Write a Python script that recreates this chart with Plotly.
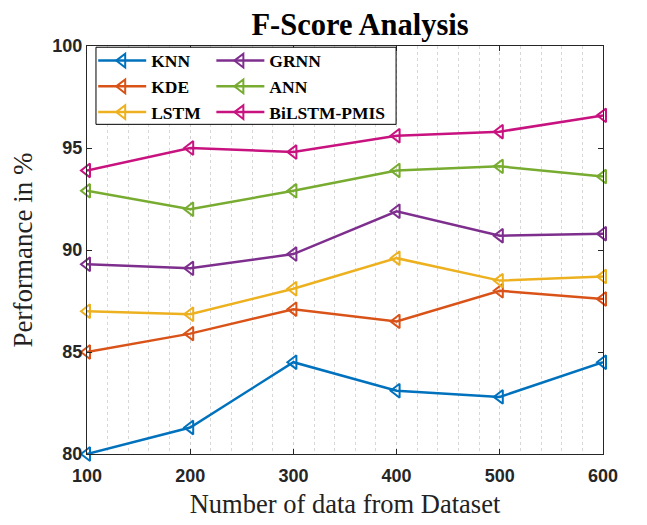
import plotly.graph_objects as go

x_vals = [100, 200, 300, 400, 500, 600]
knn = [80.0, 81.3, 84.5, 83.1, 82.8, 84.5]
kde = [85.0, 85.9, 87.1, 86.5, 88.0, 87.6]
lstm = [87.0, 86.85, 88.1, 89.6, 88.5, 88.7]
grnn = [89.3, 89.1, 89.8, 91.9, 90.7, 90.8]
ann = [92.9, 92.0, 92.9, 93.9, 94.1, 93.6]
bilstm = [93.9, 95.0, 94.8, 95.6, 95.8, 96.6]

series = [
    ("KNN", knn, "#0072BD", "legend"),
    ("KDE", kde, "#D95319", "legend"),
    ("LSTM", lstm, "#EDB120", "legend"),
    ("GRNN", grnn, "#7E2F8E", "legend2"),
    ("ANN", ann, "#77AC30", "legend2"),
    ("BiLSTM-PMIS", bilstm, "#C8127F", "legend2"),
]

y_ticks = [80, 85, 90, 95, 100]
x_ticks = [100, 200, 300, 400, 500, 600]

fig = go.Figure()
for name, vals, color, leg in series:
    fig.add_trace(go.Scatter(
        x=x_vals, y=vals, name=name, mode="lines+markers",
        line=dict(color=color, width=2.5),
        marker=dict(symbol="triangle-left-open", size=12, color=color,
                    line=dict(width=2, color=color)),
        cliponaxis=False, legend=leg,
    ))

serif = "Liberation Serif, Times New Roman, serif"
sans = "Liberation Sans, Arial, sans-serif"
axis_color = "#262626"

legfont = dict(family=serif, size=17.5, color="black", weight="bold")

fig.update_layout(
    width=639, height=517,
    margin=dict(l=79, r=44, t=38, b=68),
    paper_bgcolor="white", plot_bgcolor="white",
    title=dict(text="<b>F-Score Analysis</b>", x=0.551, xanchor="center",
               xref="container", yref="container",
               y=0.99, yanchor="top", pad=dict(t=0, b=0),
               font=dict(family=serif, size=30.5, color="black")),
    legend=dict(x=0.012, y=1.008, xanchor="left", yanchor="top",
                bgcolor="rgba(0,0,0,0)", borderwidth=0, font=legfont,
                tracegroupgap=0, itemwidth=48),
    legend2=dict(x=0.241, y=1.008, xanchor="left", yanchor="top",
                 bgcolor="rgba(0,0,0,0)", borderwidth=0, font=legfont,
                 tracegroupgap=0, itemwidth=48),
    shapes=[dict(type="rect", xref="paper", yref="paper",
                 x0=0.0174, x1=0.599, y0=0.808, y1=0.997,
                 line=dict(color="black", width=1), fillcolor="white",
                 layer="above")],
)

fig.update_xaxes(
    range=[100, 600], tickvals=x_ticks,
    title=dict(text="Number of data from Dataset",
               font=dict(family=serif, size=26.5, color="#222"), standoff=9),
    tickfont=dict(family=sans, size=18, color=axis_color, weight="bold"),
    ticklabelstandoff=5,
    showline=True, linecolor=axis_color, linewidth=1, mirror="ticks",
    ticks="inside", ticklen=5, tickcolor=axis_color,
    showgrid=True, gridcolor="#cfcfcf", griddash="dot", gridwidth=1,
    minor=dict(dtick=20, showgrid=True, gridcolor="#d8d8d8", griddash="dot",
               gridwidth=1),
    zeroline=False,
)
fig.update_yaxes(
    range=[80, 100], tickvals=y_ticks,
    title=dict(text="Performance in %",
               font=dict(family=serif, size=27, color="#222"), standoff=11),
    tickfont=dict(family=sans, size=18, color=axis_color, weight="bold"),
    showline=True, linecolor=axis_color, linewidth=1, mirror="ticks",
    ticks="inside", ticklen=5, tickcolor=axis_color,
    showgrid=False, zeroline=False,
)

fig.write_html("out.html")
